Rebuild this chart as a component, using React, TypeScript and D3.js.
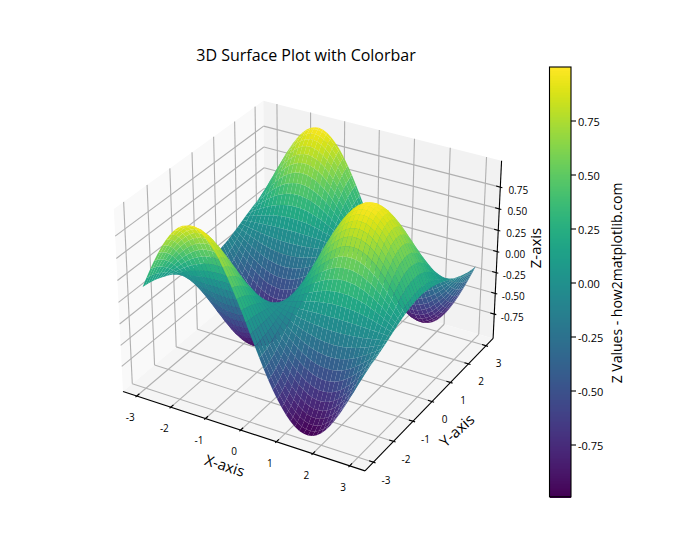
import React from "react";
import * as d3 from "d3";

const W = 700, H = 560;
const FONT = "'Open Sans','Noto Sans',sans-serif";

// Node positions of the mesh along each horizontal axis
const gridCoords = [
  -3,-2.879,-2.758,-2.636,-2.515,-2.394,-2.273,-2.152,-2.03,-1.909,-1.788,-1.667,-1.545,
  -1.424,-1.303,-1.182,-1.061,-0.939,-0.818,-0.697,-0.576,-0.455,-0.333,-0.212,-0.091,
  0.03,0.152,0.273,0.394,0.515,0.636,0.758,0.879,1,1.121,1.242,1.364,1.485,1.606,1.727,
  1.848,1.97,2.091,2.212,2.333,2.455,2.576,2.697,2.818,2.939,3,
];
// Height profile along x, at the nodes above
const xProfile = [
  -0.141,-0.26,-0.375,-0.484,-0.586,-0.681,-0.764,-0.836,-0.896,-0.943,-0.977,-0.995,-1,
  -0.989,-0.964,-0.925,-0.873,-0.807,-0.73,-0.642,-0.544,-0.439,-0.327,-0.21,-0.091,
  0.03,0.151,0.269,0.384,0.493,0.594,0.687,0.77,0.841,0.9,0.946,0.979,0.996,0.999,0.988,
  0.962,0.922,0.868,0.801,0.723,0.634,0.536,0.43,0.318,0.201,0.141,
];
// Height profile along y, at the nodes above
const yProfile = [
  -0.99,-0.966,-0.927,-0.875,-0.81,-0.733,-0.646,-0.548,-0.443,-0.332,-0.215,-0.096,0.025,
  0.146,0.265,0.38,0.489,0.591,0.683,0.767,0.839,0.898,0.945,0.978,0.996,
  1,0.989,0.963,0.923,0.87,0.804,0.726,0.638,0.54,0.435,0.322,0.206,0.086,-0.035,-0.156,
  -0.274,-0.389,-0.497,-0.598,-0.69,-0.773,-0.844,-0.904,-0.948,-0.979,-0.99,
];
const xyTicks = [-3,-2,-1,0,1,2,3];
const zTicks = [-0.75,-0.5,-0.25,0,0.25,0.5,0.75];
const colorbarTicks = [0.75,0.5,0.25,0,-0.25,-0.5,-0.75];
const colorDomain = [-0.99,1];
const paneXY = [-3.41,3.41];
const paneZ = [-1.05,1.05];

// mplot3d default camera: elev 30, azim -60, distance 10
const sx = d3.scaleLinear().domain(paneXY).range([-0.62,0.62]);
const sz = d3.scaleLinear().domain(paneZ).range([-0.465,0.465]);
const CX = 311.6, CY = 276.5, SCALE = 2235;
function view(x:number,y:number,z:number){
  const X=sx(x),Y=sx(y),Z=sz(z);
  const xv=0.866*X+0.5*Y, yv=-0.25*X+0.433*Y+0.866*Z;
  const depth=10-(0.433*X-0.75*Y+0.5*Z);
  return {px:CX+SCALE*xv/depth, py:CY-SCALE*yv/depth, depth};
}
const P=(x:number,y:number,z:number):[number,number]=>{const v=view(x,y,z);return [v.px,v.py];};
const line=d3.line();
const poly=(pts:[number,number][])=>line(pts)+"Z";

const color=d3.scaleSequential(d3.interpolateViridis).domain(colorDomain);
const [a0,a1]=paneXY, [z0,z1]=paneZ;
const GRID="#b0b0b0", AX="#000";

const cells:{d:string,fill:string,depth:number}[]=[];
for(let i=0;i<gridCoords.length-1;i++)for(let j=0;j<gridCoords.length-1;j++){
  const idx:[number,number][]=[[i,j],[i+1,j],[i+1,j+1],[i,j+1]];
  const vs=idx.map(([a,b])=>view(gridCoords[a],gridCoords[b],xProfile[a]*yProfile[b]));
  const zm=d3.mean(idx,([a,b])=>xProfile[a]*yProfile[b]) as number;
  cells.push({d:poly(vs.map(v=>[v.px,v.py] as [number,number])),fill:color(zm),depth:d3.mean(vs,v=>v.depth) as number});
}
cells.sort((p,q)=>q.depth-p.depth);

const cbY=d3.scaleLinear().domain([0,1]).range([283,67]);
const cbLevels=d3.range(256).map(i=>colorDomain[0]+(colorDomain[1]-colorDomain[0])*(i+0.5)/256);
const cbStep=(colorDomain[1]-colorDomain[0])/256;

const Seg=({a,b,stroke,w}:{a:[number,number],b:[number,number],stroke:string,w:number})=>
  <line x1={a[0]} y1={a[1]} x2={b[0]} y2={b[1]} stroke={stroke} strokeWidth={w}/>;

export default function App(){
  const tick={fontFamily:FONT,fontSize:10,fill:"#000",textAnchor:"middle" as const,dominantBaseline:"central" as const};
  const lab={fontFamily:FONT,fontSize:15,fill:"#000",textAnchor:"middle" as const,dominantBaseline:"central" as const};
  return (
    <svg width={W} height={H} viewBox={`0 0 ${W} ${H}`} style={{position:"absolute",left:0,top:0,background:"#fff"}}>
      <text x={306} y={55} fontFamily={FONT} fontSize={16} textAnchor="middle" dominantBaseline="central" fill="#000">3D Surface Plot with Colorbar</text>
      <path d={poly([P(a0,a0,z0),P(a0,a1,z0),P(a0,a1,z1),P(a0,a0,z1)])} fill="#f9f9f9"/>
      <path d={poly([P(a0,a1,z0),P(a1,a1,z0),P(a1,a1,z1),P(a0,a1,z1)])} fill="#f2f2f2"/>
      <path d={poly([P(a0,a0,z0),P(a1,a0,z0),P(a1,a1,z0),P(a0,a1,z0)])} fill="#f5f5f5"/>
      {xyTicks.map(t=><g key={"gx"+t}>
        <Seg a={P(t,a0,z0)} b={P(t,a1,z0)} stroke={GRID} w={1.1}/>
        <Seg a={P(t,a1,z0)} b={P(t,a1,z1)} stroke={GRID} w={1.1}/>
      </g>)}
      {xyTicks.map(t=><g key={"gy"+t}>
        <Seg a={P(a1,t,z0)} b={P(a0,t,z0)} stroke={GRID} w={1.1}/>
        <Seg a={P(a0,t,z0)} b={P(a0,t,z1)} stroke={GRID} w={1.1}/>
      </g>)}
      {zTicks.map(t=><g key={"gz"+t}>
        <Seg a={P(a0,a0,t)} b={P(a0,a1,t)} stroke={GRID} w={1.1}/>
        <Seg a={P(a0,a1,t)} b={P(a1,a1,t)} stroke={GRID} w={1.1}/>
      </g>)}
      <Seg a={P(a0,a0,z0)} b={P(a1,a0,z0)} stroke={AX} w={1.1}/>
      <Seg a={P(a1,a0,z0)} b={P(a1,a1,z0)} stroke={AX} w={1.1}/>
      <Seg a={P(a1,a1,z0)} b={P(a1,a1,z1)} stroke={AX} w={1.1}/>
      {xyTicks.map(t=>{const p=P(t,a0,z0);return <g key={"tx"+t}>
        <Seg a={P(t,a0-0.057,z0)} b={P(t,a0+0.114,z0)} stroke={AX} w={1.1}/>
        <text x={p[0]-6.5} y={p[1]+21} {...tick}>{t}</text></g>;})}
      {xyTicks.map(t=>{const p=P(a1,t,z0);return <g key={"ty"+t}>
        <Seg a={P(a1+0.057,t,z0)} b={P(a1-0.114,t,z0)} stroke={AX} w={1.1}/>
        <text x={p[0]+12.5} y={p[1]+17.5} {...tick}>{t}</text></g>;})}
      {zTicks.map(t=>{const p=P(a1,a1,t);return <g key={"tz"+t}>
        <Seg a={P(a1+0.057,a1,t)} b={P(a1-0.114,a1,t)} stroke={AX} w={1.1}/>
        <text x={p[0]+18} y={p[1]+2.5} {...tick}>{t.toFixed(2)}</text></g>;})}
      <g transform="translate(1,0)">{cells.map((c,i)=><path key={i} d={c.d} fill={c.fill}/>)}</g>
      <text transform="translate(225,465) rotate(18)" {...lab}>X-axis</text>
      <text transform="translate(456.5,430) rotate(-42)" {...lab}>Y-axis</text>
      <text transform="translate(535,248) rotate(-90)" {...lab}>Z-axis</text>
      <g shapeRendering="crispEdges">
      {cbLevels.map((v,i)=><rect key={i} x={549.5} width={21.5} y={cbY(v+cbStep/2)} height={cbY(v-cbStep/2)-cbY(v+cbStep/2)+1} fill={color(v)}/>)}
      </g>
      <rect x={549.5} y={cbY(colorDomain[1])} width={21.5} height={cbY(colorDomain[0])-cbY(colorDomain[1])} fill="none" stroke="#000" strokeWidth={1.1}/>
      {colorbarTicks.map(t=><g key={"cb"+t}>
        <line x1={571} x2={576} y1={cbY(t)} y2={cbY(t)} stroke="#000" strokeWidth={1.1}/>
        <text x={578} y={cbY(t)} fontFamily={FONT} fontSize={11} dominantBaseline="central" fill="#000">{t.toFixed(2)}</text>
      </g>)}
      <text transform="translate(616,283) rotate(-90)" fontFamily={FONT} fontSize={14} textAnchor="middle" dominantBaseline="central" fill="#000">Z Values - how2matplotlib.com</text>
    </svg>
  );
}
